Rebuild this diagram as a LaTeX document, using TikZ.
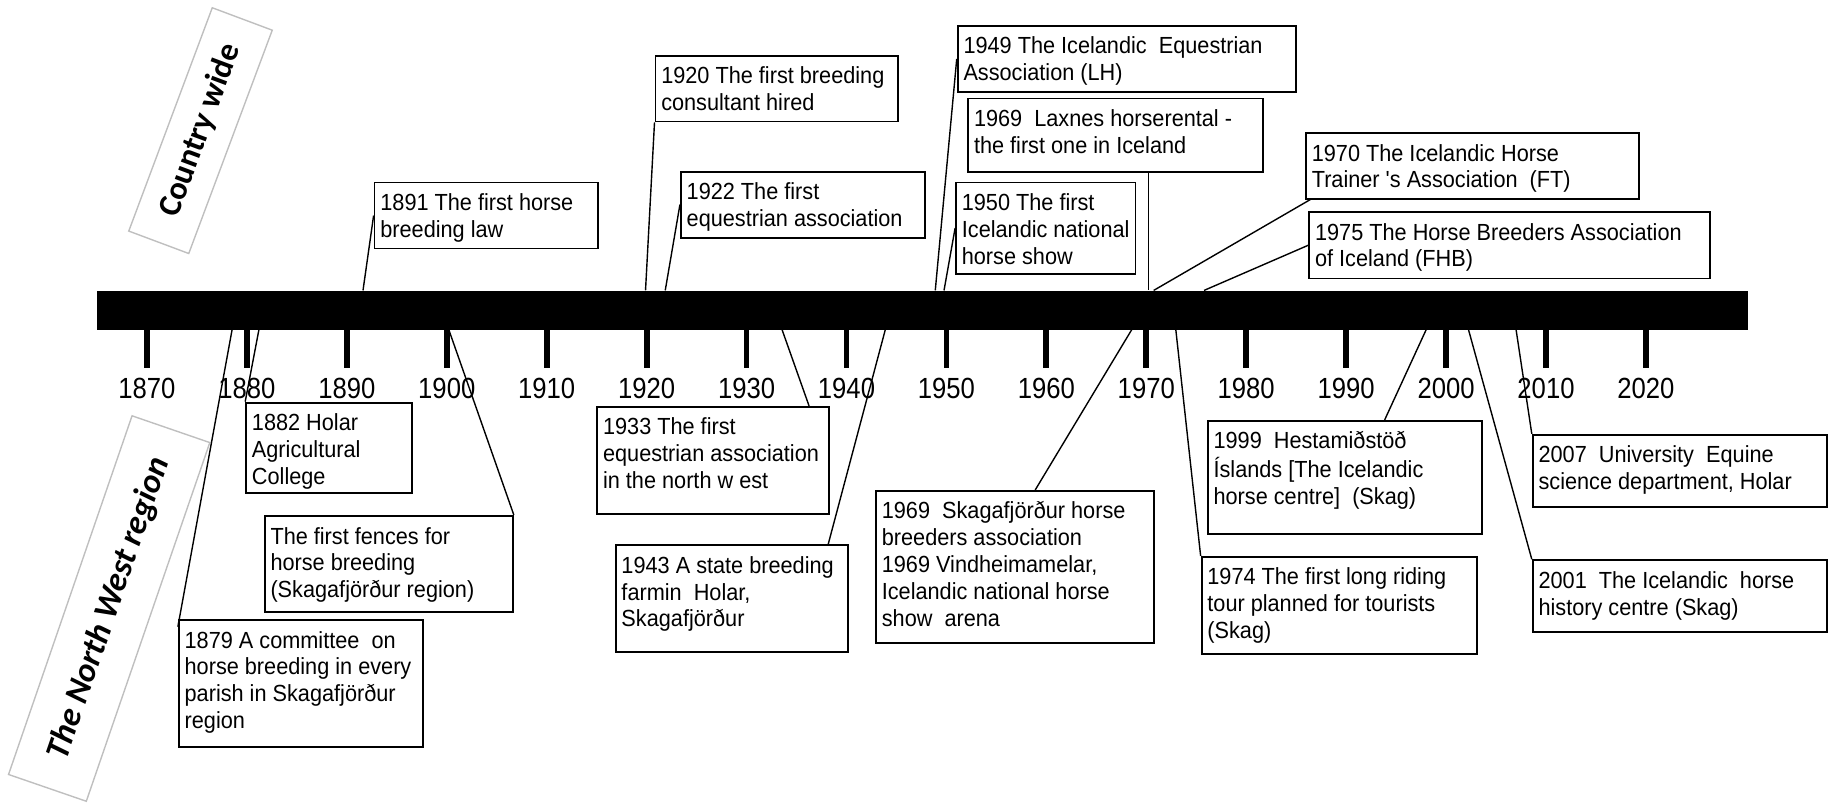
\documentclass[tikz,border=0pt]{standalone}
\usepackage{fontspec}
\setmainfont{Liberation Sans}
\newfontfamily\evfont[FakeStretch=0.93]{Liberation Sans}
\newfontfamily\yrfont[FakeStretch=0.88]{Liberation Sans}
\newfontfamily\lblfont{Carlito}
\definecolor{lgray}{HTML}{BFBFBF}
\newcommand{\evt}[3]{\parbox[c][\dimexpr#2-8pt\relax][t]{\dimexpr#1-5pt\relax}{\evfont\fontsize{10}{11.5}\selectfont\begin{tabular}[t]{@{}l@{}}#3\end{tabular}}}
\begin{document}
\begin{tikzpicture}[x=0.5pt,y=-0.5pt,
  ev/.style={draw, line width=0.8pt, inner xsep=2.5pt, inner ysep=4pt, anchor=north west},
  conn/.style={draw, line width=0.6pt},
  region/.style={draw=lgray, line width=0.6pt, inner sep=0pt, font=\lblfont\bfseries\fontsize{14}{16}\selectfont},
  yrlbl/.style={inner sep=0pt, font=\yrfont\fontsize{12.5}{14}\selectfont},
  tickln/.style={line width=2.5pt}]
\useasboundingbox (0,0) rectangle (1568,688);

% timeline bar
\node[fill=black, inner sep=0pt, anchor=north west, minimum width=707.5pt, minimum height=16.75pt] (bar) at (83,249) {};
\foreach \yr in {1870,1880,...,2020}{
  \pgfmathsetmacro{\xx}{126+(\yr-1870)*8.567}
  \draw[tickln] (\xx,282) -- (\xx,315.8);
  \node[yrlbl] (y\yr) at (\xx,333.3) {\yr};
}

% region labels
\node[region, rotate=69.5, minimum width=102.2pt, minimum height=27.45pt] (cw) at (171.9,112) {Country wide};
\node[region, rotate=71, minimum width=162.6pt, minimum height=35.25pt, font=\lblfont\bfseries\itshape\fontsize{14.5}{16}\selectfont] (nw) at (93.6,521.7) {The North West region};

% events above
\node[ev] (b1891) at (320.3,155.7) {\evt{95.8pt}{28.3pt}{1891 The first horse\\breeding law}};
\node[ev] (b1920) at (561.1,47.1) {\evt{104.1pt}{28.15pt}{1920 The first breeding\\consultant hired}};
\node[ev] (b1922) at (582.9,146.3) {\evt{104.7pt}{28.3pt}{1922 The first\\equestrian association}};
\node[ev] (b1949) at (820.2,21.4) {\evt{145pt}{28.3pt}{1949 The Icelandic \ Equestrian\\Association (LH)}};
\node[ev] (b1969L) at (829.2,83.7) {\evt{126.2pt}{31.3pt}{1969 \ Laxnes horserental -\\the first one in Iceland}};
\node[ev] (b1950) at (818.8,155.7) {\evt{76.9pt}{39.05pt}{1950 The first\\Icelandic national\\horse show}};
\node[ev] (b1970) at (1118.8,113.2) {\evt{142.7pt}{28.15pt}{1970 The Icelandic Horse\\Trainer 's Association \ (FT)}};
\node[ev] (b1975) at (1121.6,180.9) {\evt{171.9pt}{28.55pt}{1975 The Horse Breeders Association\\of Iceland (FHB)}};

% events below
\node[ev] (b1882) at (210.2,344.4) {\evt{71.15pt}{38.85pt}{1882 Holar\\Agricultural\\College}};
\node[ev] (bfence) at (226.1,441.5) {\evt{106.4pt}{41pt}{The first fences for\\horse breeding\\(Skagafjörður region)}};
\node[ev] (b1879) at (152.5,530.7) {\evt{104.75pt}{54.4pt}{1879 A committee \ on\\horse breeding in every\\parish in Skagafjörður\\region}};
\node[ev] (b1933) at (511.2,348) {\evt{99.4pt}{45.75pt}{1933 The first\\equestrian association\\in the north w est}};
\node[ev] (b1943) at (527,466.6) {\evt{99.7pt}{45.75pt}{1943 A state breeding\\farmin \ Holar,\\Skagafjörður}};
\node[ev] (b1969S) at (750.2,420) {\evt{119pt}{65.3pt}{1969 \ Skagafjörður horse\\breeders association\\1969 Vindheimamelar,\\Icelandic national horse\\show \ arena}};
\node[ev] (b1974) at (1029.3,476.6) {\evt{118pt}{41.75pt}{1974 The first long riding\\tour planned for tourists\\(Skag)}};
\node[ev] (b1999) at (1034.6,360) {\evt{117.65pt}{48.6pt}{1999 \ Hestamiðstöð\\Íslands [The Icelandic\\horse centre] \ (Skag)}};
\node[ev] (b2007) at (1313.2,372) {\evt{125.95pt}{30.9pt}{2007 \ University \ Equine\\science department, Holar}};
\node[ev] (b2001) at (1313.2,479.5) {\evt{125.95pt}{30.6pt}{2001 \ The Icelandic \ horse\\history centre (Skag)}};

% attachment points on the bar
\coordinate (c1891) at (311.2,249);
\coordinate (c1920) at (553.4,249);
\coordinate (c1922) at (570.3,249);
\coordinate (c1949) at (801.8,249);
\coordinate (c1969L) at (984.4,249);
\coordinate (c1950) at (809.3,249);
\coordinate (c1970) at (989,249);
\coordinate (c1975) at (1032.2,249);
\coordinate (c1882) at (222,282.5);
\coordinate (c1900) at (384.7,282.5);
\coordinate (c1879) at (199,282.5);
\coordinate (c1933) at (670.4,282.5);
\coordinate (c1943) at (759,282.5);
\coordinate (c1969S) at (970.3,282.5);
\coordinate (c1974) at (1008,282.5);
\coordinate (c1999) at (1222.7,282.5);
\coordinate (c2007) at (1299.7,282.5);
\coordinate (c2001) at (1258.9,282.5);

% connectors above
\draw[conn] (b1891.west) -- (c1891);
\draw[conn] (b1920.south west) -- (c1920);
\draw[conn] (b1922.west) -- (c1922);
\draw[conn] (b1949.west) -- (c1949);
\draw[conn] (b1969L.south -| c1969L) -- (c1969L);
\draw[conn] (b1950.west) -- (c1950);
\draw[conn] ([xshift=2.25pt]b1970.south west) -- (c1970);
\draw[conn] (b1975.west) -- (c1975);

% connectors below
\draw[conn] (c1882) -- (b1882.north west);
\draw[conn] (c1900) -- (bfence.north east);
\draw[conn] (c1879) -- ([yshift=-3.25pt]b1879.north west);
\draw[conn] (c1933) -- ([xshift=-9pt]b1933.north east);
\draw[conn] (c1943) -- ([xshift=-9pt]b1943.north east);
\draw[conn] (c1969S) -- ([xshift=8.75pt]b1969S.north);
\draw[conn] (c1974) -- (b1974.north west);
\draw[conn] (c1999) -- ([xshift=17pt]b1999.north);
\draw[conn] (c2007) -- (b2007.north west);
\draw[conn] (c2001) -- (b2001.north west);
\end{tikzpicture}
\end{document}
